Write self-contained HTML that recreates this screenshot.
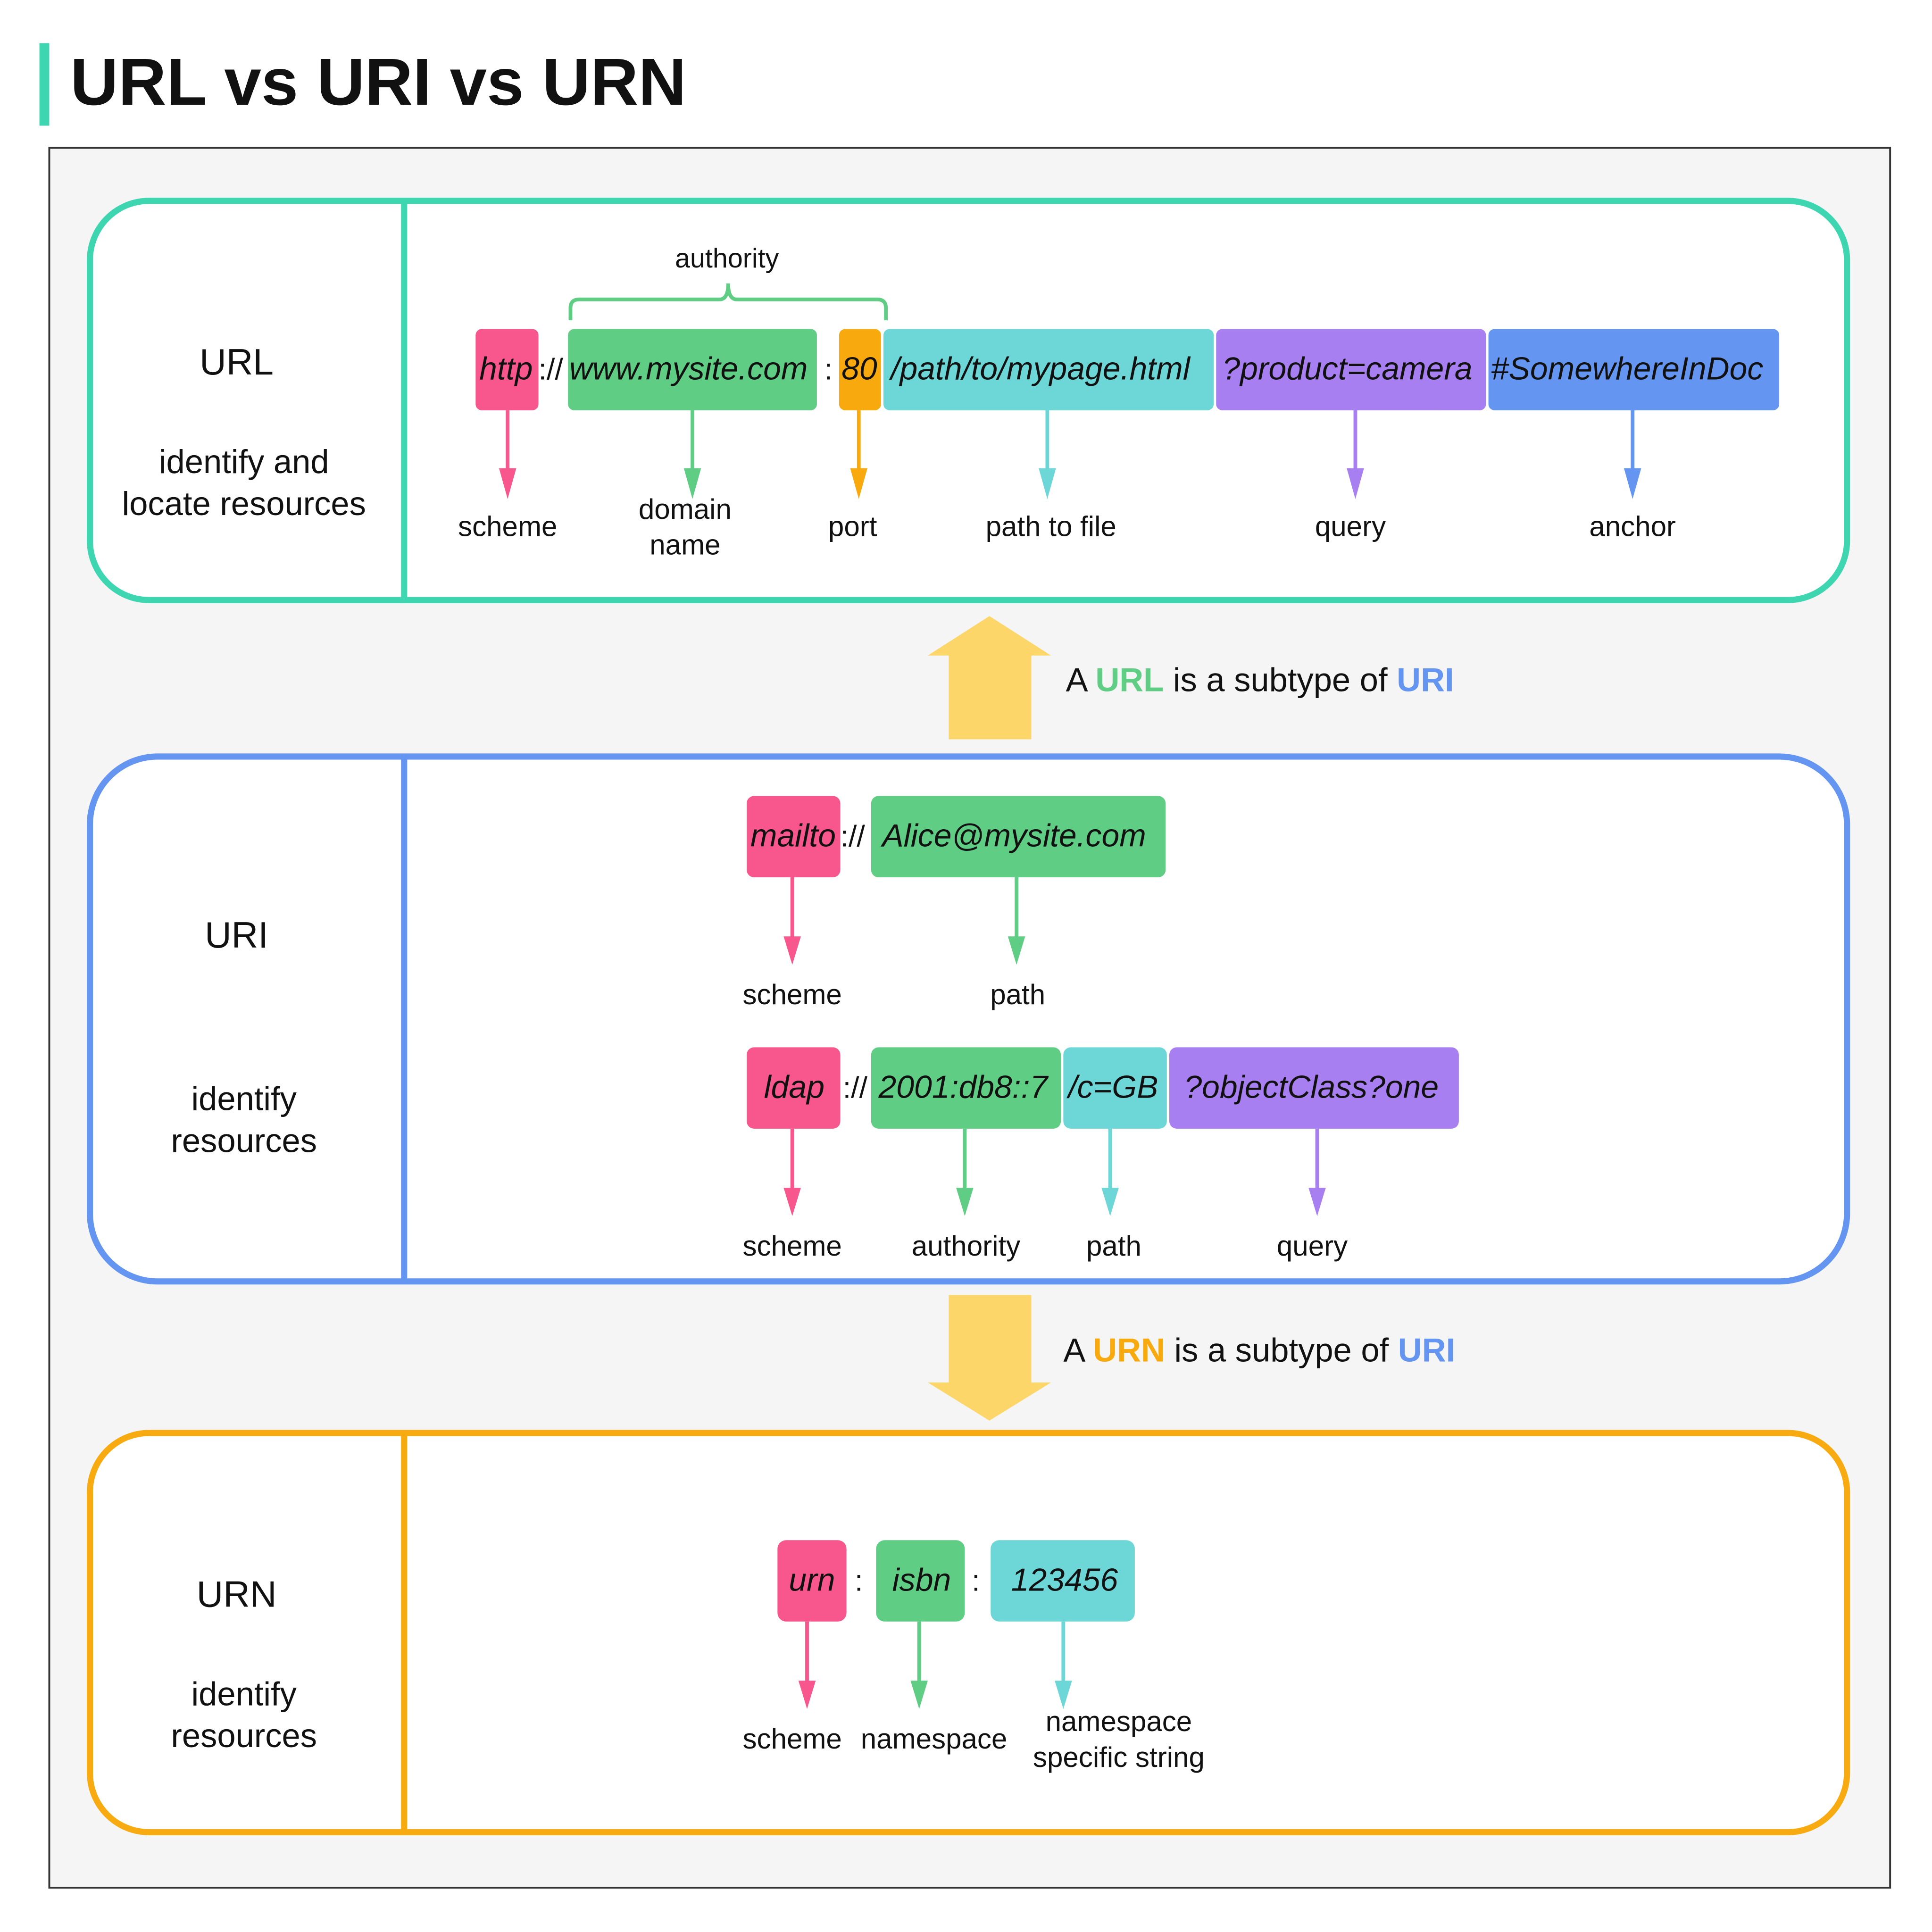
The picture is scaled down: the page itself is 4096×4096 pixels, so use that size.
<!DOCTYPE html>
<html><head><meta charset="utf-8"><style>
html,body{margin:0;padding:0;background:#fff;}
svg{display:block;}
text{font-family:"Liberation Sans",sans-serif;fill:#111;}
.b{font-style:italic;font-size:26px;}
.l{font-size:23px;text-anchor:middle;}
.h{font-size:27px;text-anchor:middle;}
</style></head><body>
<svg width="4096" height="4096" viewBox="0 0 1568 1568" xmlns="http://www.w3.org/2000/svg">
<rect x="0" y="0" width="1568" height="1568" fill="#fff"/>
<rect x="32" y="35" width="8" height="67" fill="#3dd6b0"/>
<text x="57" y="85" font-size="54" font-weight="bold">URL vs URI vs URN</text>
<rect x="40" y="120" width="1494" height="1412" fill="#f5f5f5" stroke="#333" stroke-width="1.5"/>

<!-- URL -->
<rect x="73" y="163" width="1426" height="324" rx="48" fill="#fff" stroke="#3dd6b0" stroke-width="5"/>
<line x1="328" y1="163" x2="328" y2="487" stroke="#3dd6b0" stroke-width="5"/>
<text x="192" y="304" font-size="30" text-anchor="middle">URL</text>
<text x="198" y="384" class="h">identify and</text>
<text x="198" y="418" class="h">locate resources</text>
<text x="590" y="217" font-size="22" text-anchor="middle">authority</text>
<path d="M463 260 V250 Q463 243 470 243 H584 Q591 243 591 230 Q591 243 598 243 H712 Q719 243 719 250 V260" fill="none" stroke="#5fcd84" stroke-width="3"/>
<rect x="386" y="267" width="51" height="66" rx="5" fill="#f7578c"/>
<rect x="461" y="267" width="202" height="66" rx="5" fill="#5fcd84"/>
<rect x="681" y="267" width="34" height="66" rx="5" fill="#f7a90d"/>
<rect x="717" y="267" width="268" height="66" rx="5" fill="#6dd6d6"/>
<rect x="987" y="267" width="219" height="66" rx="5" fill="#a87ff0"/>
<rect x="1208" y="267" width="236" height="66" rx="5" fill="#6495f0"/>
<text x="389" y="308" class="b">http</text>
<text x="437" y="308" font-size="24">://</text>
<text x="462" y="308" class="b">www.mysite.com</text>
<text x="669" y="308" font-size="24">:</text>
<text x="683" y="308" class="b">80</text>
<text x="723" y="308" class="b">/path/to/mypage.html</text>
<text x="992" y="308" class="b">?product=camera</text>
<text x="1210" y="308" class="b">#SomewhereInDoc</text>
<g stroke-width="3">
<line x1="412" y1="333" x2="412" y2="392" stroke="#f7578c"/><polygon points="405,380 419,380 412,405" fill="#f7578c"/>
<line x1="562" y1="333" x2="562" y2="392" stroke="#5fcd84"/><polygon points="555,380 569,380 562,405" fill="#5fcd84"/>
<line x1="697" y1="333" x2="697" y2="392" stroke="#f7a90d"/><polygon points="690,380 704,380 697,405" fill="#f7a90d"/>
<line x1="850" y1="333" x2="850" y2="392" stroke="#6dd6d6"/><polygon points="843,380 857,380 850,405" fill="#6dd6d6"/>
<line x1="1100" y1="333" x2="1100" y2="392" stroke="#a87ff0"/><polygon points="1093,380 1107,380 1100,405" fill="#a87ff0"/>
<line x1="1325" y1="333" x2="1325" y2="392" stroke="#6495f0"/><polygon points="1318,380 1332,380 1325,405" fill="#6495f0"/>
</g>
<text x="412" y="435" class="l">scheme</text>
<text x="556" y="421" class="l">domain</text>
<text x="556" y="450" class="l">name</text>
<text x="692" y="435" class="l">port</text>
<text x="853" y="435" class="l">path to file</text>
<text x="1096" y="435" class="l">query</text>
<text x="1325" y="435" class="l">anchor</text>

<!-- up arrow -->
<polygon points="803,500 853,532 837,532 837,600 770,600 770,532 753,532" fill="#fdd669"/>
<text x="865" y="561" font-size="27">A <tspan fill="#5fcd84" font-weight="bold">URL</tspan> is a subtype of <tspan fill="#6495f0" font-weight="bold">URI</tspan></text>

<!-- URI -->
<rect x="73" y="614" width="1426" height="426" rx="55" fill="#fff" stroke="#6495f0" stroke-width="5"/>
<line x1="328" y1="614" x2="328" y2="1040" stroke="#6495f0" stroke-width="5"/>
<text x="192" y="769" font-size="30" text-anchor="middle">URI</text>
<text x="198" y="901" class="h">identify</text>
<text x="198" y="935" class="h">resources</text>
<rect x="606" y="646" width="76" height="66" rx="6" fill="#f7578c"/>
<rect x="707" y="646" width="239" height="66" rx="6" fill="#5fcd84"/>
<text x="609" y="687" class="b">mailto</text>
<text x="682" y="687" font-size="24">://</text>
<text x="716" y="687" class="b">Alice@mysite.com</text>
<g stroke-width="3">
<line x1="643" y1="712" x2="643" y2="770" stroke="#f7578c"/><polygon points="636,760 650,760 643,783" fill="#f7578c"/>
<line x1="825" y1="712" x2="825" y2="770" stroke="#5fcd84"/><polygon points="818,760 832,760 825,783" fill="#5fcd84"/>
</g>
<text x="643" y="815" class="l">scheme</text>
<text x="826" y="815" class="l">path</text>
<rect x="606" y="850" width="76" height="66" rx="6" fill="#f7578c"/>
<rect x="707" y="850" width="154" height="66" rx="6" fill="#5fcd84"/>
<rect x="863" y="850" width="84" height="66" rx="6" fill="#6dd6d6"/>
<rect x="949" y="850" width="235" height="66" rx="6" fill="#a87ff0"/>
<text x="620" y="891" class="b">ldap</text>
<text x="684" y="891" font-size="24">://</text>
<text x="713" y="891" class="b">2001:db8::7</text>
<text x="867" y="891" class="b">/c=GB</text>
<text x="961" y="891" class="b">?objectClass?one</text>
<g stroke-width="3">
<line x1="643" y1="916" x2="643" y2="974" stroke="#f7578c"/><polygon points="636,964 650,964 643,987" fill="#f7578c"/>
<line x1="783" y1="916" x2="783" y2="974" stroke="#5fcd84"/><polygon points="776,964 790,964 783,987" fill="#5fcd84"/>
<line x1="901" y1="916" x2="901" y2="974" stroke="#6dd6d6"/><polygon points="894,964 908,964 901,987" fill="#6dd6d6"/>
<line x1="1069" y1="916" x2="1069" y2="974" stroke="#a87ff0"/><polygon points="1062,964 1076,964 1069,987" fill="#a87ff0"/>
</g>
<text x="643" y="1019" class="l">scheme</text>
<text x="784" y="1019" class="l">authority</text>
<text x="904" y="1019" class="l">path</text>
<text x="1065" y="1019" class="l">query</text>

<!-- down arrow -->
<polygon points="770,1051 837,1051 837,1122 853,1122 803,1153 753,1122 770,1122" fill="#fdd669"/>
<text x="863" y="1105" font-size="27">A <tspan fill="#f7a90d" font-weight="bold">URN</tspan> is a subtype of <tspan fill="#6495f0" font-weight="bold">URI</tspan></text>

<!-- URN -->
<rect x="73" y="1163" width="1426" height="324" rx="48" fill="#fff" stroke="#f7ab10" stroke-width="5"/>
<line x1="328" y1="1163" x2="328" y2="1487" stroke="#f7ab10" stroke-width="5"/>
<text x="192" y="1304" font-size="30" text-anchor="middle">URN</text>
<text x="198" y="1384" class="h">identify</text>
<text x="198" y="1418" class="h">resources</text>
<rect x="631" y="1250" width="56" height="66" rx="7" fill="#f7578c"/>
<rect x="711" y="1250" width="72" height="66" rx="7" fill="#5fcd84"/>
<rect x="804" y="1250" width="117" height="66" rx="7" fill="#6dd6d6"/>
<text x="659" y="1291" class="b" text-anchor="middle">urn</text>
<text x="697" y="1291" font-size="24" text-anchor="middle">:</text>
<text x="748" y="1291" class="b" text-anchor="middle">isbn</text>
<text x="792" y="1291" font-size="24" text-anchor="middle">:</text>
<text x="864" y="1291" class="b" text-anchor="middle">123456</text>
<g stroke-width="3">
<line x1="655" y1="1316" x2="655" y2="1374" stroke="#f7578c"/><polygon points="648,1364 662,1364 655,1387" fill="#f7578c"/>
<line x1="746" y1="1316" x2="746" y2="1374" stroke="#5fcd84"/><polygon points="739,1364 753,1364 746,1387" fill="#5fcd84"/>
<line x1="863" y1="1316" x2="863" y2="1374" stroke="#6dd6d6"/><polygon points="856,1364 870,1364 863,1387" fill="#6dd6d6"/>
</g>
<text x="643" y="1419" class="l">scheme</text>
<text x="758" y="1419" class="l">namespace</text>
<text x="908" y="1405" class="l">namespace</text>
<text x="908" y="1434" class="l">specific string</text>
</svg>
</body></html>
